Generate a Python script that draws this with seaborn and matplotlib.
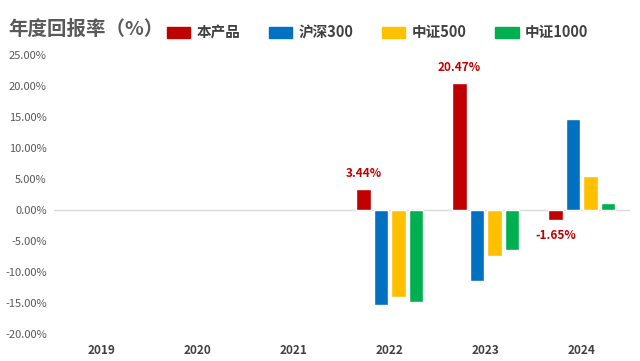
import matplotlib.pyplot as plt
import numpy as np
import pandas as pd
import seaborn as sns

# 年份与各系列年度收益（%）
years = ['2019', '2020', '2021', '2022', '2023', '2024']
series = ['本产品', '沪深300', '中证500', '中证1000']
product = [np.nan, np.nan, np.nan, 3.44, 20.47, -1.65]
hs300 = [np.nan, np.nan, np.nan, -15.4, -11.4, 14.6]
zz500 = [np.nan, np.nan, np.nan, -14.1, -7.5, 5.4]
zz1000 = [np.nan, np.nan, np.nan, -14.8, -6.4, 1.1]
colors = ['#C00000', '#0070C0', '#FFC000', '#00B050']

rows = []
for name, vals in zip(series, [product, hs300, zz500, zz1000]):
    for y, v in zip(years, vals):
        rows.append({'year': y, 'series': name, 'value': v})
df = pd.DataFrame(rows)

sns.set_style('white')
plt.rcParams['font.family'] = ['Noto Sans CJK SC', 'DejaVu Sans']

fig = plt.figure(figsize=(6.4, 3.61), dpi=100)
ax = fig.add_axes([0.084, 0.075, 0.9, 0.773])

sns.barplot(data=df, x='year', y='value', hue='series', order=years,
            hue_order=series, palette=colors, width=0.73, gap=0.18,
            saturation=1, ax=ax, legend=False)

ax.set_ylim(-20, 25)
ax.set_yticks(np.arange(-20, 26, 5))
ax.set_yticklabels([f'{t:.2f}%' for t in np.arange(-20, 26, 5)],
                   fontsize=8, color='#595959')
ax.tick_params(axis='y', length=0, pad=5)
ax.tick_params(axis='x', length=0, pad=7)
for lab in ax.get_xticklabels():
    lab.set_fontweight('bold')
    lab.set_fontsize(8.5)
    lab.set_color('#404040')
ax.set_xlabel('')
ax.set_ylabel('')
for s in ax.spines.values():
    s.set_visible(False)
ax.axhline(0, color='#D9D9D9', lw=1, zorder=0)

# 本产品数据标签
for i, v in enumerate(product):
    if np.isnan(v):
        continue
    x = i - 0.73 / 2 + 0.73 / 8
    off = 11 if v >= 0 else -11
    ax.annotate(f'{v:.2f}%', (x, v), xytext=(0, off), textcoords='offset points',
                ha='center', va='center', color='#C00000', fontsize=8.5,
                fontweight='bold')

fig.text(0.013, 0.92, '年度回报率（%）', fontsize=14, fontweight='bold',
         color='#595959', va='center')
handles = [plt.Rectangle((0, 0), 1, 1, color=c) for c in colors]
fig.legend(handles, series, loc='center left', bbox_to_anchor=(0.24, 0.91),
           ncol=4, frameon=False, handlelength=1.6, handleheight=0.75,
           columnspacing=1.95, handletextpad=0.45, labelcolor='#404040',
           prop={'size': 10.5, 'weight': 'bold'})

fig.savefig('out.png', dpi=100)
